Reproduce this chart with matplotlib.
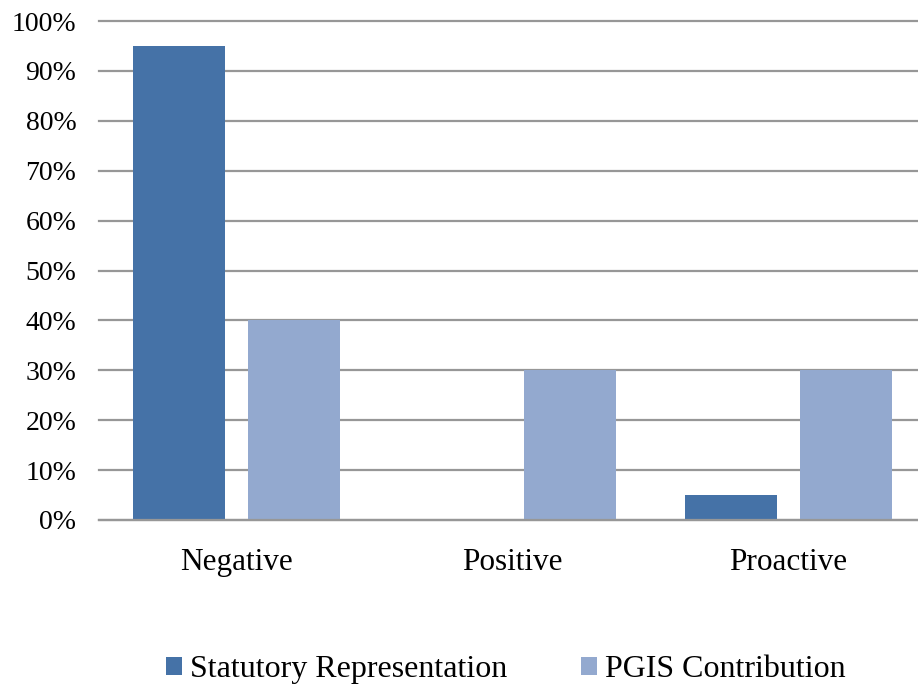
import matplotlib
matplotlib.use("Agg")
import matplotlib.pyplot as plt
from matplotlib.patches import Patch
import numpy as np

categories = ["Negative", "Positive", "Proactive"]
statutory = [0.95, 0.0, 0.05]
pgis = [0.40, 0.30, 0.30]
series_names = ["Statutory Representation", "PGIS Contribution"]
yticks = [0.0, 0.1, 0.2, 0.3, 0.4, 0.5, 0.6, 0.7, 0.8, 0.9, 1.0]
ytick_labels = ["0%", "10%", "20%", "30%", "40%", "50%", "60%", "70%", "80%", "90%", "100%"]

dark = "#4572A7"
light = "#93A9CF"
grid_color = "#979797"

plt.rcParams["font.family"] = ["Liberation Serif", "DejaVu Serif"]

fig = plt.figure(figsize=(9.18, 6.89), dpi=100)
ax = fig.add_axes([0.1074, 0.2453, 0.9013, 0.7242])

x = np.arange(len(categories))
offset = 0.2085
width = 0.334
ax.bar(x - offset, statutory, width, color=dark, zorder=3)
ax.bar(x + offset, pgis, width, color=light, zorder=3)

ax.set_xlim(-0.5, 2.5)
ax.set_ylim(0, 1.0)
ax.set_yticks(yticks)
ax.set_yticklabels(ytick_labels, fontsize=20)
ax.set_xticks(x)
ax.set_xticklabels(categories, fontsize=22.5)
ax.tick_params(axis="both", length=0)
ax.tick_params(axis="y", pad=16)
ax.tick_params(axis="x", pad=20)

ax.yaxis.grid(True, color=grid_color, linewidth=1.6, zorder=0)
for gl in ax.get_ygridlines():
    gl.set_clip_on(False)
for side in ["left", "right", "top"]:
    ax.spines[side].set_visible(False)
ax.spines["bottom"].set_color(grid_color)
ax.spines["bottom"].set_linewidth(1.6)
ax.spines["bottom"].set_zorder(4)

handles = [Patch(facecolor=dark), Patch(facecolor=light)]
fig.legend(handles, series_names, loc="center", bbox_to_anchor=(0.551, 0.028),
           ncol=2, frameon=False, fontsize=23, handlelength=0.5, handleheight=0.5,
           handletextpad=0.25, columnspacing=2.3)

fig.savefig("out.png", dpi=100)
